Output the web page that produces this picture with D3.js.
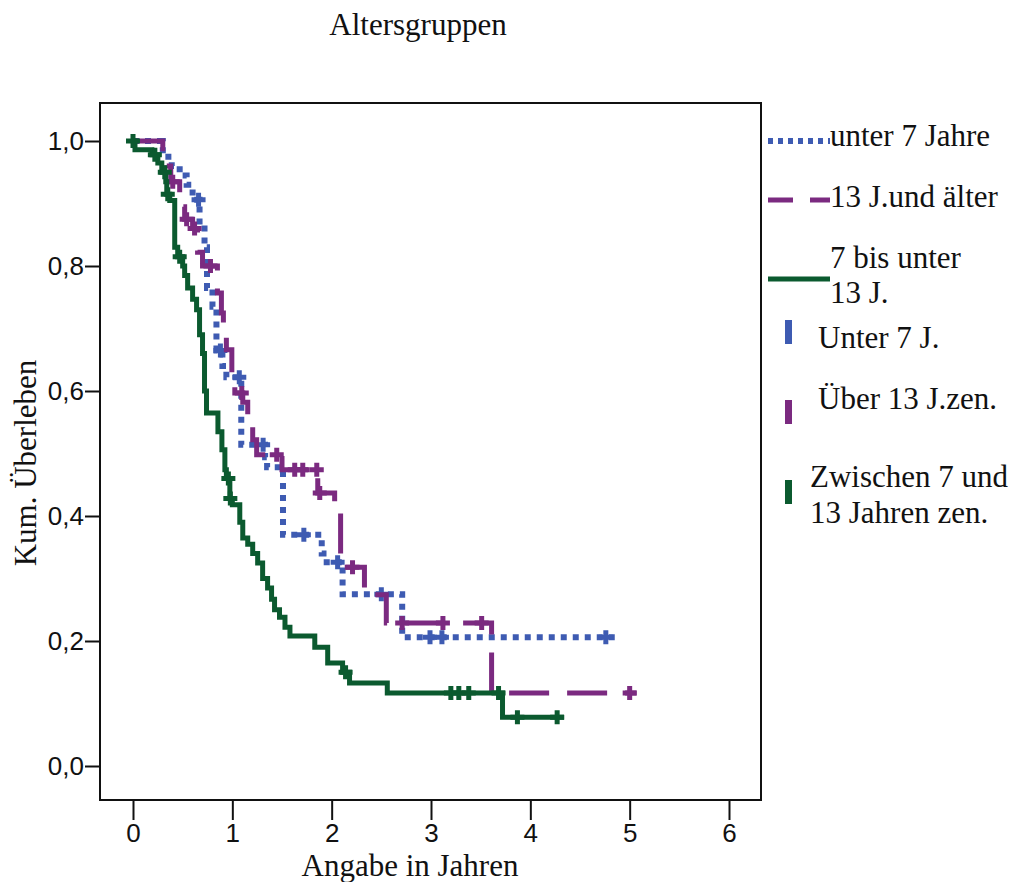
<!DOCTYPE html>
<html>
<head>
<meta charset="utf-8">
<script src="https://cdn.jsdelivr.net/npm/d3@7"></script>
<style>
body { margin: 0; background: #fff; }
svg { display: block; }
.serif { font-family: "Liberation Serif", "Times New Roman", serif; fill: #111; }
.tick text { font-family: "Liberation Sans", Arial, sans-serif; font-size: 26px; fill: #111; }
.tick line { stroke: #111; stroke-width: 2; }
</style>
</head>
<body>
<script>
// Kaplan-Meier Kurven, Werte
var timesU7 = [0, 0.30, 0.39, 0.47, 0.54, 0.60, 0.67, 0.72, 0.745, 0.80, 0.84, 0.90, 0.94, 1.09, 1.33, 1.35, 1.51, 1.90, 1.95, 2.11, 2.71, 4.86];
var survU7 = [1.0, 0.975, 0.96, 0.945, 0.93, 0.906, 0.86, 0.83, 0.765, 0.735, 0.665, 0.64, 0.622, 0.514, 0.494, 0.478, 0.37, 0.34, 0.326, 0.275, 0.206, 0.206];
var censU7 = [0.66, 0.88, 1.07, 1.31, 1.72, 2.06, 2.50, 2.99, 3.11, 4.76];

var timesU13 = [0, 0.30, 0.34, 0.38, 0.47, 0.52, 0.60, 0.65, 0.70, 0.85, 0.89, 0.91, 0.94, 0.995, 1.025, 1.105, 1.155, 1.205, 1.245, 1.50, 1.86, 2.03, 2.09, 2.33, 2.55, 3.61, 5.07];
var survU13 = [1.0, 0.98, 0.96, 0.935, 0.895, 0.875, 0.86, 0.822, 0.80, 0.757, 0.725, 0.686, 0.666, 0.613, 0.597, 0.582, 0.549, 0.522, 0.498, 0.474, 0.437, 0.41, 0.318, 0.274, 0.229, 0.117, 0.117];
var censU13 = [0.40, 0.54, 0.62, 0.78, 1.095, 1.447, 1.628, 1.709, 1.85, 1.88, 2.21, 2.71, 3.12, 3.51, 5.0];

var times7bis13 = [0, 0.02, 0.19, 0.25, 0.29, 0.33, 0.34, 0.37, 0.42, 0.45, 0.50, 0.52, 0.55, 0.60, 0.64, 0.67, 0.70, 0.72, 0.74, 0.855, 0.895, 0.925, 0.94, 0.975, 1.0, 1.075, 1.105, 1.155, 1.205, 1.255, 1.305, 1.355, 1.395, 1.425, 1.475, 1.53, 1.58, 1.83, 1.96, 2.11, 2.18, 2.56, 3.72, 4.34];
var surv7bis13 = [1.0, 0.986, 0.978, 0.965, 0.95, 0.935, 0.915, 0.905, 0.83, 0.815, 0.80, 0.785, 0.765, 0.747, 0.73, 0.69, 0.66, 0.60, 0.565, 0.535, 0.506, 0.474, 0.46, 0.428, 0.418, 0.39, 0.365, 0.355, 0.34, 0.325, 0.30, 0.285, 0.267, 0.25, 0.238, 0.222, 0.208, 0.19, 0.165, 0.15, 0.133, 0.117, 0.078, 0.078];
var cens7bis13 = [0, 0.22, 0.32, 0.35, 0.47, 0.96, 0.98, 2.14, 3.2, 3.28, 3.38, 3.68, 3.87, 4.27];

var xTicks = [0, 1, 2, 3, 4, 5, 6];
var yTicks = [0, 0.2, 0.4, 0.6, 0.8, 1.0];

var blue = "#3e5bb2", purple = "#7b2a80", green = "#0b5a2f";

var groups = [
	{name: "unter 7 Jahre", times: timesU7, surv: survU7, cens: censU7, color: blue, dash: "6,6", legDash: "5,5", width: 6},
	{name: "13 J.und älter", times: timesU13, surv: survU13, cens: censU13, color: purple, dash: "40,18", legDash: "25,17", width: 5},
	{name: "7 bis unter 13 J.", times: times7bis13, surv: surv7bis13, cens: cens7bis13, color: green, dash: null, legDash: null, width: 5}
];

var W = 1014, H = 882;
var svg = d3.select("body").append("svg").attr("width", W).attr("height", H);

var box = {left: 100, right: 761, top: 103, bottom: 800};
var x = d3.scaleLinear().domain([0, 6]).range([133, 729]);
var y = d3.scaleLinear().domain([0, 1]).range([766, 141]);

// Rahmen
svg.append("rect")
	.attr("x", box.left).attr("y", box.top)
	.attr("width", box.right - box.left).attr("height", box.bottom - box.top)
	.attr("fill", "none").attr("stroke", "#111").attr("stroke-width", 2);

var fmt = function(d){ return d3.format(".1f")(d).replace(".", ","); };

var yAxis = svg.append("g")
	.attr("transform", "translate(" + box.left + ",0)")
	.call(d3.axisLeft(y).tickValues(yTicks).tickSize(15).tickPadding(1).tickFormat(fmt));
yAxis.select(".domain").remove();

var xAxis = svg.append("g")
	.attr("transform", "translate(0," + box.bottom + ")")
	.call(d3.axisBottom(x).tickValues(xTicks).tickSize(20).tickPadding(4).tickFormat(d3.format("d")));
xAxis.select(".domain").remove();

// Titel und Achsentitel
svg.append("text").attr("class", "serif")
	.attr("x", 418).attr("y", 35).attr("text-anchor", "middle")
	.style("font-size", "31px").text("Altersgruppen");

svg.append("text").attr("class", "serif")
	.attr("x", 410).attr("y", 876).attr("text-anchor", "middle")
	.style("font-size", "31px").text("Angabe in Jahren");

svg.append("text").attr("class", "serif")
	.attr("transform", "translate(36,463) rotate(-90)")
	.attr("text-anchor", "middle")
	.style("font-size", "31px").text("Kum. Überleben");

function survAt(g, t){
	var i = d3.bisectRight(g.times, t) - 1;
	return g.surv[Math.max(0, i)];
}

var line = d3.line()
	.x(function(d){ return x(d[0]); })
	.y(function(d){ return y(d[1]); })
	.curve(d3.curveStepAfter);

var plot = svg.append("g");

groups.forEach(function(g){
	var pts = g.times.map(function(t, i){ return [t, g.surv[i]]; });
	plot.append("path")
		.attr("d", line(pts))
		.attr("fill", "none")
		.attr("stroke", g.color)
		.attr("stroke-width", g.width)
		.attr("stroke-dasharray", g.dash)
		.attr("stroke-linejoin", "miter");

	plot.selectAll(null)
		.data(g.cens)
		.enter()
		.append("path")
		.attr("d", function(t){
			var cx = x(t), cy = y(survAt(g, t));
			return "M" + (cx - 7) + "," + cy + "H" + (cx + 7) + "M" + cx + "," + (cy - 7) + "V" + (cy + 7);
		})
		.attr("stroke", g.color)
		.attr("stroke-width", 5)
		.attr("fill", "none");
});

// Legende
var leg = svg.append("g");
var legLines = [
	{y: 141, g: groups[0], labels: ["unter 7 Jahre"], ty: [146]},
	{y: 200, g: groups[1], labels: ["13 J.und älter"], ty: [207]},
	{y: 279, g: groups[2], labels: ["7 bis unter", "13 J."], ty: [268, 303]}
];
legLines.forEach(function(d){
	leg.append("line")
		.attr("x1", 768).attr("x2", 830)
		.attr("y1", d.y).attr("y2", d.y)
		.attr("stroke", d.g.color)
		.attr("stroke-width", d.g.width)
		.attr("stroke-dasharray", d.g.legDash);
	d.labels.forEach(function(l, i){
		leg.append("text").attr("class", "serif")
			.attr("x", 830).attr("y", d.ty[i])
			.style("font-size", "31px").text(l);
	});
});

var legCens = [
	{color: blue, y0: 320, labels: ["Unter 7 J."], tx: 818, ty: [348]},
	{color: purple, y0: 400, labels: ["Über 13 J.zen."], tx: 818, ty: [409]},
	{color: green, y0: 480, labels: ["Zwischen 7 und", "13 Jahren zen."], tx: 810, ty: [487, 523]}
];
legCens.forEach(function(d){
	leg.append("rect")
		.attr("x", 785).attr("y", d.y0)
		.attr("width", 7).attr("height", 24)
		.attr("fill", d.color);
	d.labels.forEach(function(l, i){
		leg.append("text").attr("class", "serif")
			.attr("x", d.tx).attr("y", d.ty[i])
			.style("font-size", "31px").text(l);
	});
});
</script>
</body>
</html>
